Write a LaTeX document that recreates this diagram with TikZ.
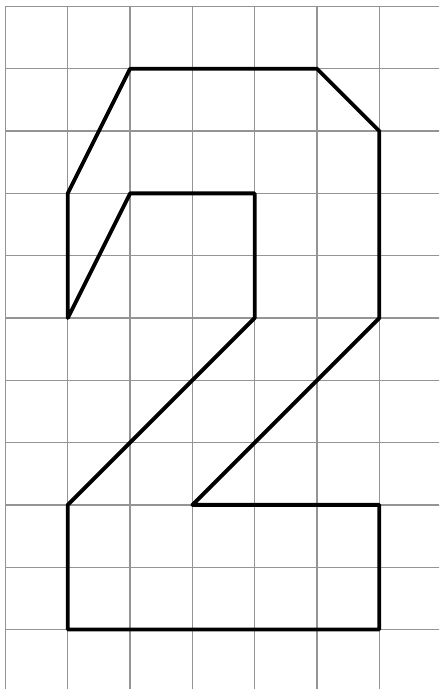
\documentclass[tikz,border=0pt]{standalone}
\begin{document}
\begin{tikzpicture}[x=1cm,y=1cm,
  gridline/.style={draw=black!42, line width=0.55pt},
  outline/.style={draw=black, line width=1.75pt, line join=round}]
\useasboundingbox (-0.088,0.104) rectangle (6.959,-10.955);
\clip (-0.088,0.104) rectangle (6.959,-10.955);
\draw[gridline] (0,-11) grid (7,0);
\draw[outline] (2,-1) -- (5,-1) -- (6,-2) -- (6,-5) -- (3,-8) -- (6,-8) -- (6,-10)
  -- (1,-10) -- (1,-8) -- (4,-5) -- (4,-3) -- (2,-3) -- (1,-5) -- (1,-3) -- cycle;
\end{tikzpicture}
\end{document}
